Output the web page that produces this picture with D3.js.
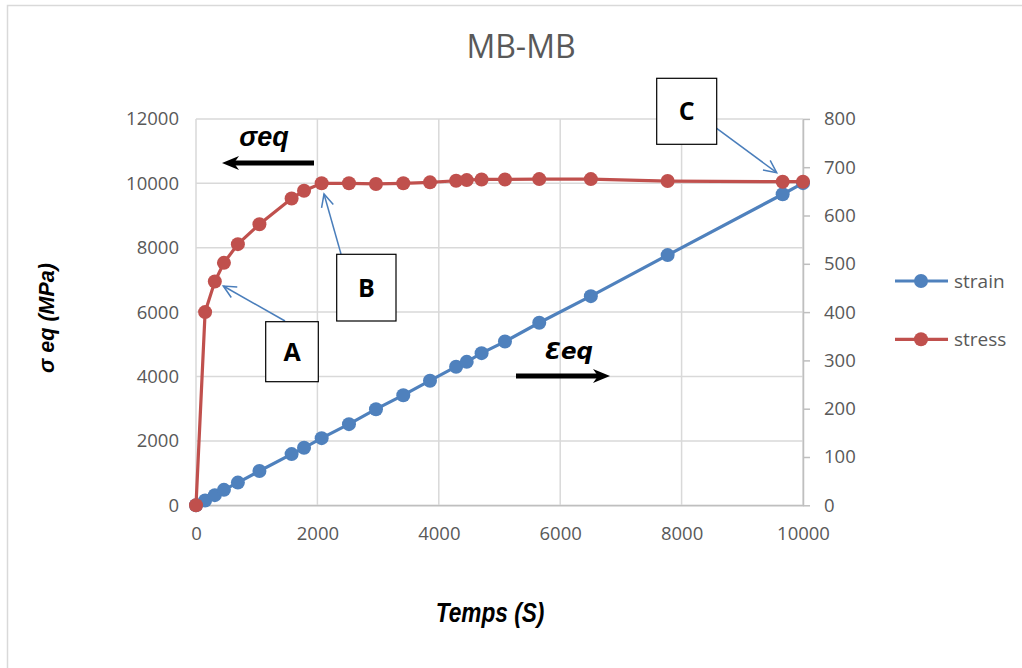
<!DOCTYPE html>
<html><head><meta charset="utf-8">
<script src="https://cdn.jsdelivr.net/npm/d3@7"></script>
<style>body{margin:0;background:#fff;} svg{display:block;}</style>
</head><body>
<svg id="c" width="1022" height="668"></svg>
<script>
// ---- data ----
const chartTitle = "MB-MB";
const timeValues = [0,150,310,460,690,1045,1575,1780,2070,2520,2965,3415,3855,4285,4460,4705,5090,5655,6505,7770,9665,10000];
const strainValues = [0,10,21,32,47,71,106,119,139,168,199,228,258,287,297,315,339,378,433,518,644,667];
const stressValues = [0,6000,6950,7530,8110,8730,9530,9770,10000,10000,9980,10000,10030,10080,10100,10120,10120,10130,10130,10070,10050,10050];
const xTicks = [0,2000,4000,6000,8000,10000];
const leftTicks = [0,2000,4000,6000,8000,10000,12000];
const rightTicks = [0,100,200,300,400,500,600,700,800];
const seriesNames = ["strain","stress"];
const annotations = [
  {label:"A", tx:1545, tsy:6950},
  {label:"B", tx:2070, tsy:10000},
  {label:"C", tx:9665, tsy:10050}
];

const svg = d3.select("#c");
const colors = {strain:"#4f81bd", stress:"#c0504d"};
const x = d3.scaleLinear().domain([0,10000]).range([196,803]);
const yL = d3.scaleLinear().domain([0,12000]).range([505.3,118.9]);
const yR = d3.scaleLinear().domain([0,800]).range([505.3,118.9]);

// outer border
svg.append("path").attr("d","M7.5,668 V5.5 H1022").attr("fill","none").attr("stroke","#d9d9d9").attr("stroke-width",1.5);

// title
svg.append("text").attr("x",521).attr("y",58).attr("text-anchor","middle")
  .style("font-family","'Open Sans'").style("font-size","32px").attr("fill","#595959").text(chartTitle);

// grid
const grid = svg.append("g");
grid.selectAll(".h").data(leftTicks).join("line")
  .attr("x1",x(0)).attr("x2",x(10000)).attr("y1",d=>yL(d)).attr("y2",d=>yL(d))
  .attr("stroke","#d9d9d9").attr("stroke-width",1.5);
grid.selectAll(".v").data(xTicks).join("line")
  .attr("x1",d=>x(d)).attr("x2",d=>x(d)).attr("y1",yL(0)).attr("y2",yL(12000))
  .attr("stroke","#d9d9d9").attr("stroke-width",1.5);

// axes
const tickFont = g => g.selectAll("text").style("font-family","'Open Sans'").style("font-size","18.5px").attr("fill","#595959");
const gx = svg.append("g").attr("transform",`translate(0,${yL(0)})`)
  .call(d3.axisBottom(x).tickValues(xTicks).tickSize(0).tickPadding(22).tickFormat(d3.format("d")));
gx.select(".domain").attr("stroke","#bfbfbf").attr("stroke-width",1.5);
gx.call(tickFont);
const gl = svg.append("g").attr("transform",`translate(${x(0)},0)`)
  .call(d3.axisLeft(yL).tickValues(leftTicks).tickSize(0).tickPadding(17).tickFormat(d3.format("d")));
gl.select(".domain").remove();
gl.call(tickFont);
const gr = svg.append("g").attr("transform",`translate(${x(10000)},0)`)
  .call(d3.axisRight(yR).tickValues(rightTicks).tickSize(7).tickPadding(14).tickSizeOuter(0).tickFormat(d3.format("d")));
gr.select(".domain").attr("stroke","#bfbfbf").attr("stroke-width",1.5);
gr.selectAll("line").attr("stroke","#bfbfbf").attr("stroke-width",1.5);
gr.call(tickFont);

// axis titles
svg.append("text").attr("transform","translate(54,318) rotate(-90)").attr("text-anchor","middle")
  .style("font-family","'Liberation Sans'").style("font-size","21.5px").style("font-weight","bold").style("font-style","italic")
  .attr("fill","#000").text("σ eq (MPa)");
svg.append("text").attr("transform","translate(490,622) scale(0.84,1)").attr("text-anchor","middle")
  .style("font-family","'Liberation Sans'").style("font-size","27px").style("font-weight","bold").style("font-style","italic")
  .attr("fill","#000").text("Temps (S)");

// series
const pts = timeValues.map((t,i)=>({t, strain:strainValues[i], stress:stressValues[i]}));
const lineS = d3.line().x(d=>x(d.t)).y(d=>yR(d.strain));
const lineT = d3.line().x(d=>x(d.t)).y(d=>yL(d.stress));
svg.append("path").datum(pts).attr("d",lineS).attr("fill","none").attr("stroke",colors.strain).attr("stroke-width",3.2);
svg.selectAll(".ms").data(pts).join("circle").attr("cx",d=>x(d.t)).attr("cy",d=>yR(d.strain)).attr("r",7).attr("fill",colors.strain);
svg.append("path").datum(pts).attr("d",lineT).attr("fill","none").attr("stroke",colors.stress).attr("stroke-width",3.2);
svg.selectAll(".mt").data(pts).join("circle").attr("cx",d=>x(d.t)).attr("cy",d=>yL(d.stress)).attr("r",7).attr("fill",colors.stress);

// legend
const leg = svg.append("g");
seriesNames.forEach((n,i)=>{
  const yy = 281 + i*58.3;
  leg.append("line").attr("x1",895).attr("x2",948).attr("y1",yy).attr("y2",yy).attr("stroke",colors[n]).attr("stroke-width",3.2);
  leg.append("circle").attr("cx",921).attr("cy",yy).attr("r",7).attr("fill",colors[n]);
  leg.append("text").attr("x",954).attr("y",yy+7).style("font-family","'Open Sans'").style("font-size","19px").attr("fill","#595959").text(n);
});

// black direction arrows
function bigArrow(x1,y,x2){
  const dir = Math.sign(x2-x1);
  svg.append("line").attr("x1",x1).attr("x2",x2-dir*8).attr("y1",y).attr("y2",y).attr("stroke","#000").attr("stroke-width",5);
  svg.append("path").attr("d",`M${x2},${y} L${x2-dir*17},${y-7} L${x2-dir*12},${y} L${x2-dir*17},${y+7} Z`).attr("fill","#000");
}
bigArrow(314,163,222);
bigArrow(516,376,610);
svg.append("text").attr("x",264).attr("y",146).attr("text-anchor","middle")
  .style("font-family","'Liberation Sans'").style("font-size","27px").style("font-weight","bold").style("font-style","italic").text("σeq");
svg.append("text").attr("x",569).attr("y",359).attr("text-anchor","middle")
  .style("font-family","'DejaVu Sans'").style("font-size","23px").style("font-weight","bold").style("font-style","italic").text("Ɛeq");

// callout boxes with blue arrows
const boxes = {A:[265.7,321.7,52.6,60],B:[336.7,254.3,59.3,66.7],C:[656.7,78.3,60,66]};
const arrowFrom = {A:[285,321],B:[341,254],C:[716.7,128.3]};
const arrowTo = {A:[223.3,286],B:[324,194],C:[776.7,172.7]};
annotations.forEach(a=>{
  const [bx,by,bw,bh] = boxes[a.label];
  const [fx,fy] = arrowFrom[a.label];
  const [tx,ty] = arrowTo[a.label];
  svg.append("line").attr("x1",fx).attr("y1",fy).attr("x2",tx).attr("y2",ty).attr("stroke","#4a7ebb").attr("stroke-width",1.5);
  const ang = Math.atan2(fy-ty,fx-tx), L=14, w=0.45;
  svg.append("path").attr("d",`M${tx+L*Math.cos(ang+w)},${ty+L*Math.sin(ang+w)} L${tx},${ty} L${tx+L*Math.cos(ang-w)},${ty+L*Math.sin(ang-w)}`)
    .attr("fill","none").attr("stroke","#4a7ebb").attr("stroke-width",1.5);
  svg.append("rect").attr("x",bx).attr("y",by).attr("width",bw).attr("height",bh).attr("fill","#fff").attr("stroke","#000").attr("stroke-width",1.2);
  svg.append("text").attr("x",bx+bw/2).attr("y",by+bh/2+9).attr("text-anchor","middle")
    .style("font-family","'Open Sans'").style("font-size","25px").style("font-weight","bold").text(a.label);
});
</script>
</body></html>
